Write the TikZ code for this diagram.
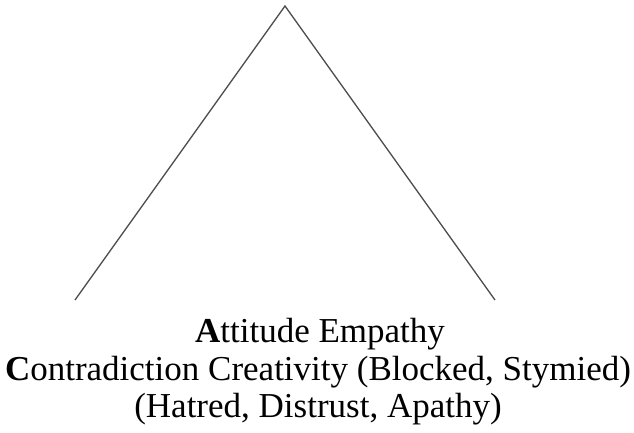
\documentclass[tikz,border=0pt]{standalone}
\usepackage{fontspec}
\setmainfont{Liberation Serif}
\begin{document}
\begin{tikzpicture}[x=1pt,y=1pt,
  edge/.style={draw=black!70, line width=1.3pt},
  lbl/.style={anchor=base, inner sep=0pt, font=\fontsize{35}{40}\selectfont}]
\useasboundingbox (0,0) rectangle (634,432);
\coordinate (peak) at (285,426);
\coordinate (left) at (75,132);
\coordinate (right) at (495,132);
\draw[edge] (left) -- (peak) -- (right);
\node[lbl] (l1) at (320,90) {\textbf{A}ttitude Empathy};
\node[lbl] (l2) at (318,52) {\textbf{C}ontradiction Creativity (Blocked, Stymied)};
\node[lbl] (l3) at (318,15) {(Hatred, Distrust, Apathy)};
\end{tikzpicture}
\end{document}
